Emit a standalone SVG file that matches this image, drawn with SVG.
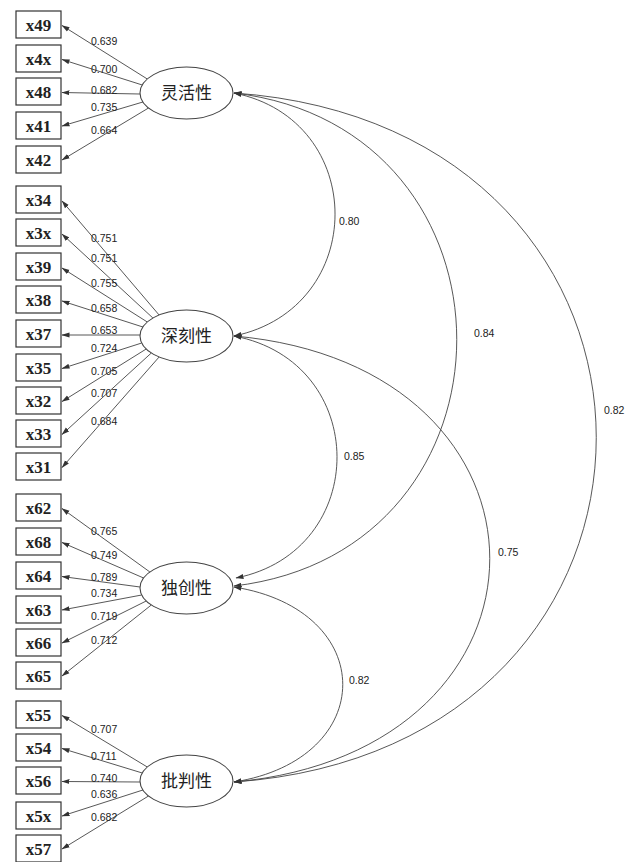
<svg xmlns="http://www.w3.org/2000/svg" width="633" height="862" viewBox="0 0 633 862">
<style>
.bg{fill:#ffffff}
.box{fill:#ffffff;stroke:#333;stroke-width:1.2}
.bt{font-family:"Liberation Serif",serif;font-weight:bold;font-size:17px;fill:#222;text-anchor:middle}
.lat{fill:#ffffff;stroke:#444;stroke-width:1.1}
.lt{font-family:"Noto Sans CJK SC",sans-serif;font-size:17px;fill:#222;text-anchor:middle}
.ld{stroke:#444;stroke-width:0.9;fill:none;marker-end:url(#ah)}
.cv{stroke:#444;stroke-width:0.9;fill:none;marker-start:url(#ah);marker-end:url(#ah)}
.num{font-family:"Liberation Sans",sans-serif;font-size:10.5px;fill:#222}
</style>
<defs>
<marker id="ah" markerUnits="userSpaceOnUse" markerWidth="8" markerHeight="6" refX="7.5" refY="3" orient="auto-start-reverse">
<path d="M0,0.5 L8,3 L0,5.5 z" fill="#333"/>
</marker>
</defs>
<rect class="bg" x="0" y="0" width="633" height="862"/>

<g id="connectors">
<!-- loadings group 1 -->
<line class="ld" x1="147.3" y1="79" x2="62" y2="25.5"/>
<line class="ld" x1="142.3" y1="85" x2="62" y2="59.5"/>
<line class="ld" x1="140" y1="94" x2="62" y2="92.5"/>
<line class="ld" x1="142.9" y1="102" x2="62" y2="126"/>
<line class="ld" x1="148.5" y1="108" x2="62" y2="160"/>
<!-- group 2 -->
<line class="ld" x1="159.1" y1="315" x2="62" y2="201"/>
<line class="ld" x1="152.9" y1="318" x2="62" y2="234"/>
<line class="ld" x1="147.3" y1="322" x2="62" y2="268"/>
<line class="ld" x1="142.9" y1="327" x2="62" y2="301"/>
<line class="ld" x1="140" y1="335" x2="62" y2="335"/>
<line class="ld" x1="141.7" y1="343" x2="62" y2="368.5"/>
<line class="ld" x1="146.2" y1="349" x2="62" y2="401.5"/>
<line class="ld" x1="151.3" y1="353" x2="62" y2="434.5"/>
<line class="ld" x1="159.1" y1="357" x2="62" y2="467.5"/>
<!-- group 3 -->
<line class="ld" x1="149.9" y1="572" x2="62" y2="508.5"/>
<line class="ld" x1="143.6" y1="578" x2="62" y2="542.5"/>
<line class="ld" x1="140" y1="587" x2="62" y2="576.5"/>
<line class="ld" x1="141.7" y1="595" x2="62" y2="610"/>
<line class="ld" x1="146.2" y1="601" x2="62" y2="643"/>
<line class="ld" x1="151.3" y1="605" x2="62" y2="676"/>
<!-- group 4 -->
<line class="ld" x1="147.3" y1="767" x2="62" y2="715.5"/>
<line class="ld" x1="142.3" y1="773" x2="62" y2="748.5"/>
<line class="ld" x1="140" y1="782" x2="62" y2="781.5"/>
<line class="ld" x1="142.9" y1="790" x2="62" y2="816"/>
<line class="ld" x1="148.5" y1="796" x2="62" y2="849"/>

<!-- covariances -->
<path class="cv" d="M234,93 C368.7,120 368.7,308 234,336"/>
<path class="cv" d="M234,93 C531,128 531,551 234,586"/>
<path class="cv" d="M234,93 C717,127 717,748 234,782"/>
<path class="cv" d="M234,336 C371,362 371,551 236,578"/>
<path class="cv" d="M234,336 C575,366 575,751 234,782"/>
<path class="cv" d="M234,587 C379,610 379,759 234,782"/>

<!-- loading labels -->
<text class="num" x="91" y="45">0.639</text>
<text class="num" x="91" y="73">0.700</text>
<text class="num" x="91" y="94">0.682</text>
<text class="num" x="91" y="111">0.735</text>
<text class="num" x="91" y="134">0.664</text>

<text class="num" x="91" y="242">0.751</text>
<text class="num" x="91" y="262">0.751</text>
<text class="num" x="91" y="287">0.755</text>
<text class="num" x="91" y="312">0.658</text>
<text class="num" x="91" y="334">0.653</text>
<text class="num" x="91" y="352">0.724</text>
<text class="num" x="91" y="375">0.705</text>
<text class="num" x="91" y="397">0.707</text>
<text class="num" x="91" y="425">0.684</text>

<text class="num" x="91" y="535">0.765</text>
<text class="num" x="91" y="559">0.749</text>
<text class="num" x="91" y="581">0.789</text>
<text class="num" x="91" y="597">0.734</text>
<text class="num" x="91" y="620">0.719</text>
<text class="num" x="91" y="644">0.712</text>

<text class="num" x="91" y="733">0.707</text>
<text class="num" x="91" y="760">0.711</text>
<text class="num" x="91" y="782">0.740</text>
<text class="num" x="91" y="798">0.636</text>
<text class="num" x="91" y="821">0.682</text>

<!-- covariance labels -->
<text class="num" x="339" y="225">0.80</text>
<text class="num" x="474" y="337">0.84</text>
<text class="num" x="604" y="414">0.82</text>
<text class="num" x="344" y="460">0.85</text>
<text class="num" x="498" y="556">0.75</text>
<text class="num" x="349" y="684">0.82</text>
</g>

<!-- latent nodes -->
<g id="f_linghuo"><ellipse class="lat" cx="186.5" cy="93" rx="46.5" ry="26"/><text class="lt" x="186.5" y="99">灵活性</text></g>
<g id="f_shenke"><ellipse class="lat" cx="186.5" cy="336" rx="46.5" ry="26"/><text class="lt" x="186.5" y="342">深刻性</text></g>
<g id="f_duchuang"><ellipse class="lat" cx="186.5" cy="588" rx="46.5" ry="26"/><text class="lt" x="186.5" y="594">独创性</text></g>
<g id="f_pipan"><ellipse class="lat" cx="186.5" cy="781" rx="46.5" ry="26"/><text class="lt" x="186.5" y="787">批判性</text></g>

<!-- observed nodes -->
<g id="n_x49"><rect class="box" x="16" y="11" width="45" height="27"/><text class="bt" x="38.5" y="30.5">x49</text></g>
<g id="n_x4x"><rect class="box" x="16" y="45" width="45" height="27"/><text class="bt" x="38.5" y="64.5">x4x</text></g>
<g id="n_x48"><rect class="box" x="16" y="78" width="45" height="27"/><text class="bt" x="38.5" y="97.5">x48</text></g>
<g id="n_x41"><rect class="box" x="16" y="112" width="45" height="27"/><text class="bt" x="38.5" y="131.5">x41</text></g>
<g id="n_x42"><rect class="box" x="16" y="146" width="45" height="27"/><text class="bt" x="38.5" y="165.5">x42</text></g>

<g id="n_x34"><rect class="box" x="16" y="186" width="45" height="27"/><text class="bt" x="38.5" y="205.5">x34</text></g>
<g id="n_x3x"><rect class="box" x="16" y="219" width="45" height="27"/><text class="bt" x="38.5" y="238.5">x3x</text></g>
<g id="n_x39"><rect class="box" x="16" y="253" width="45" height="27"/><text class="bt" x="38.5" y="272.5">x39</text></g>
<g id="n_x38"><rect class="box" x="16" y="286" width="45" height="27"/><text class="bt" x="38.5" y="305.5">x38</text></g>
<g id="n_x37"><rect class="box" x="16" y="320" width="45" height="27"/><text class="bt" x="38.5" y="339.5">x37</text></g>
<g id="n_x35"><rect class="box" x="16" y="354" width="45" height="27"/><text class="bt" x="38.5" y="373.5">x35</text></g>
<g id="n_x32"><rect class="box" x="16" y="387" width="45" height="27"/><text class="bt" x="38.5" y="406.5">x32</text></g>
<g id="n_x33"><rect class="box" x="16" y="420" width="45" height="27"/><text class="bt" x="38.5" y="439.5">x33</text></g>
<g id="n_x31"><rect class="box" x="16" y="453" width="45" height="27"/><text class="bt" x="38.5" y="472.5">x31</text></g>

<g id="n_x62"><rect class="box" x="16" y="494" width="45" height="27"/><text class="bt" x="38.5" y="513.5">x62</text></g>
<g id="n_x68"><rect class="box" x="16" y="528" width="45" height="27"/><text class="bt" x="38.5" y="547.5">x68</text></g>
<g id="n_x64"><rect class="box" x="16" y="562" width="45" height="27"/><text class="bt" x="38.5" y="581.5">x64</text></g>
<g id="n_x63"><rect class="box" x="16" y="596" width="45" height="27"/><text class="bt" x="38.5" y="615.5">x63</text></g>
<g id="n_x66"><rect class="box" x="16" y="629" width="45" height="27"/><text class="bt" x="38.5" y="648.5">x66</text></g>
<g id="n_x65"><rect class="box" x="16" y="662" width="45" height="27"/><text class="bt" x="38.5" y="681.5">x65</text></g>

<g id="n_x55"><rect class="box" x="16" y="701" width="45" height="27"/><text class="bt" x="38.5" y="720.5">x55</text></g>
<g id="n_x54"><rect class="box" x="16" y="734" width="45" height="27"/><text class="bt" x="38.5" y="753.5">x54</text></g>
<g id="n_x56"><rect class="box" x="16" y="767" width="45" height="27"/><text class="bt" x="38.5" y="786.5">x56</text></g>
<g id="n_x5x"><rect class="box" x="16" y="802" width="45" height="27"/><text class="bt" x="38.5" y="821.5">x5x</text></g>
<g id="n_x57"><rect class="box" x="16" y="835" width="45" height="27"/><text class="bt" x="38.5" y="854.5">x57</text></g>
</svg>
